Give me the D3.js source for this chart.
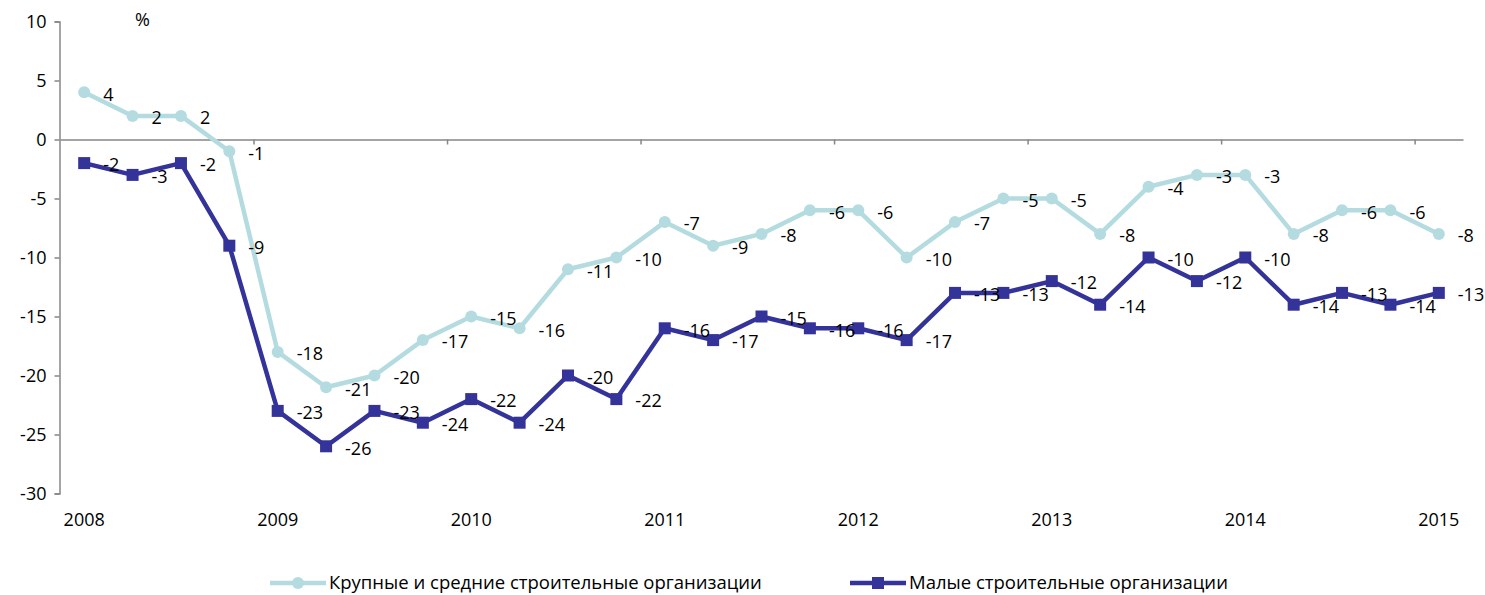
<!DOCTYPE html>
<html>
<head>
<meta charset="utf-8">
<script src="https://cdn.jsdelivr.net/npm/d3@7"></script>
<style>
  body { margin: 0; background: #fff; }
  svg { font-family: 'Open Sans', sans-serif; }
</style>
</head>
<body>
<svg id="chart" width="1485" height="595"></svg>
<script>
const periods = [
  'I 2008', 'II 2008', 'III 2008', 'IV 2008',
  'I 2009', 'II 2009', 'III 2009', 'IV 2009',
  'I 2010', 'II 2010', 'III 2010', 'IV 2010',
  'I 2011', 'II 2011', 'III 2011', 'IV 2011',
  'I 2012', 'II 2012', 'III 2012', 'IV 2012',
  'I 2013', 'II 2013', 'III 2013', 'IV 2013',
  'I 2014', 'II 2014', 'III 2014', 'IV 2014',
  'I 2015'
];
const yearLabels = ['2008', '2009', '2010', '2011', '2012', '2013', '2014', '2015'];
const largeOrgs = [4, 2, 2, -1, -18, -21, -20, -17, -15, -16, -11, -10, -7, -9, -8, -6, -6, -10, -7, -5, -5, -8, -4, -3, -3, -8, -6, -6, -8];
const smallOrgs = [-2, -3, -2, -9, -23, -26, -23, -24, -22, -24, -20, -22, -16, -17, -15, -16, -16, -17, -13, -13, -12, -14, -10, -12, -10, -14, -13, -14, -13];
const yTicks = [10, 5, 0, -5, -10, -15, -20, -25, -30];
const seriesNames = ['Крупные и средние строительные организации', 'Малые строительные организации'];

const lightColor = '#b4dce0';
const darkColor = '#333399';
const axisColor = '#868686';

const svg = d3.select('#chart');

const x = d3.scaleBand().domain(periods).range([60, 1463]).padding(0);
const y = d3.scaleLinear().domain([-30, 10]).range([493.5, 21.5]);
const cx = d => x(d) + x.bandwidth() / 2;

// y axis
const yAxis = svg.append('g')
  .attr('transform', 'translate(59.5,0)')
  .call(d3.axisLeft(y).tickValues(yTicks).tickSize(5).tickPadding(8).tickFormat(d => String(d)));
yAxis.selectAll('path, line').attr('stroke', axisColor).attr('stroke-width', 1.5);
yAxis.selectAll('text').attr('font-size', 18).attr('fill', '#000').attr('font-family', 'Open Sans');

// zero line with ticks between years
const bounds = yearLabels.slice(1).map((d, i) => x(periods[(i + 1) * 4]));
const xb = d3.scaleLinear().domain([60, 1463]).range([60, 1463]);
const zeroAxis = svg.append('g')
  .attr('transform', `translate(0,${y(0)})`)
  .call(d3.axisBottom(xb).tickValues(bounds.slice(0, -1).concat([x(periods[27]) + x.bandwidth()])).tickSize(5).tickFormat('').tickSizeOuter(0));
zeroAxis.selectAll('path, line').attr('stroke', axisColor).attr('stroke-width', 1.5);

// year labels
const yearAxis = svg.append('g')
  .attr('transform', 'translate(0,513)')
  .call(d3.axisBottom(x).tickValues(periods.filter((d, i) => i % 4 === 0))
    .tickFormat((d, i) => yearLabels[i]).tickSize(0).tickPadding(0));
yearAxis.select('.domain').remove();
yearAxis.selectAll('text').attr('font-size', 18).attr('fill', '#000').attr('font-family', 'Open Sans');

svg.append('text').attr('x', 135).attr('y', 26).attr('font-size', 18).text('%');

const line = d3.line().x((d, i) => cx(periods[i])).y(d => y(d));

// light series
svg.append('path').datum(largeOrgs)
  .attr('d', line).attr('fill', 'none').attr('stroke', lightColor)
  .attr('stroke-width', 4.5).attr('stroke-linejoin', 'round');
svg.append('g').selectAll('circle').data(largeOrgs).join('circle')
  .attr('cx', (d, i) => cx(periods[i])).attr('cy', d => y(d)).attr('r', 6)
  .attr('fill', lightColor);

// dark series
svg.append('path').datum(smallOrgs)
  .attr('d', line).attr('fill', 'none').attr('stroke', darkColor)
  .attr('stroke-width', 4.5).attr('stroke-linejoin', 'round');
svg.append('g').selectAll('rect').data(smallOrgs).join('rect')
  .attr('x', (d, i) => cx(periods[i]) - 6).attr('y', d => y(d) - 6)
  .attr('width', 12).attr('height', 12).attr('fill', darkColor);

// data labels
[largeOrgs, smallOrgs].forEach(series => {
  svg.append('g').selectAll('text').data(series).join('text')
    .attr('x', (d, i) => cx(periods[i]) + 19)
    .attr('y', d => y(d) + 2)
    .attr('dy', '0.35em')
    .attr('font-size', 18)
    .attr('fill', '#000')
    .text(d => d);
});

// legend
const legend = svg.append('g').attr('transform', 'translate(0,583)');
const legendItems = [
  { x: 270, color: lightColor, shape: 'circle', name: seriesNames[0] },
  { x: 850, color: darkColor, shape: 'rect', name: seriesNames[1] }
];
legendItems.forEach(item => {
  const g = legend.append('g').attr('transform', `translate(${item.x},0)`);
  g.append('line').attr('x1', 0).attr('x2', 56).attr('stroke', item.color).attr('stroke-width', 4.5);
  if (item.shape === 'circle') {
    g.append('circle').attr('cx', 28).attr('r', 6).attr('fill', item.color);
  } else {
    g.append('rect').attr('x', 22).attr('y', -6).attr('width', 12).attr('height', 12).attr('fill', item.color);
  }
  g.append('text').attr('x', 59).attr('dy', '0.35em').attr('font-size', 18.5).text(item.name);
});
</script>
</body>
</html>
